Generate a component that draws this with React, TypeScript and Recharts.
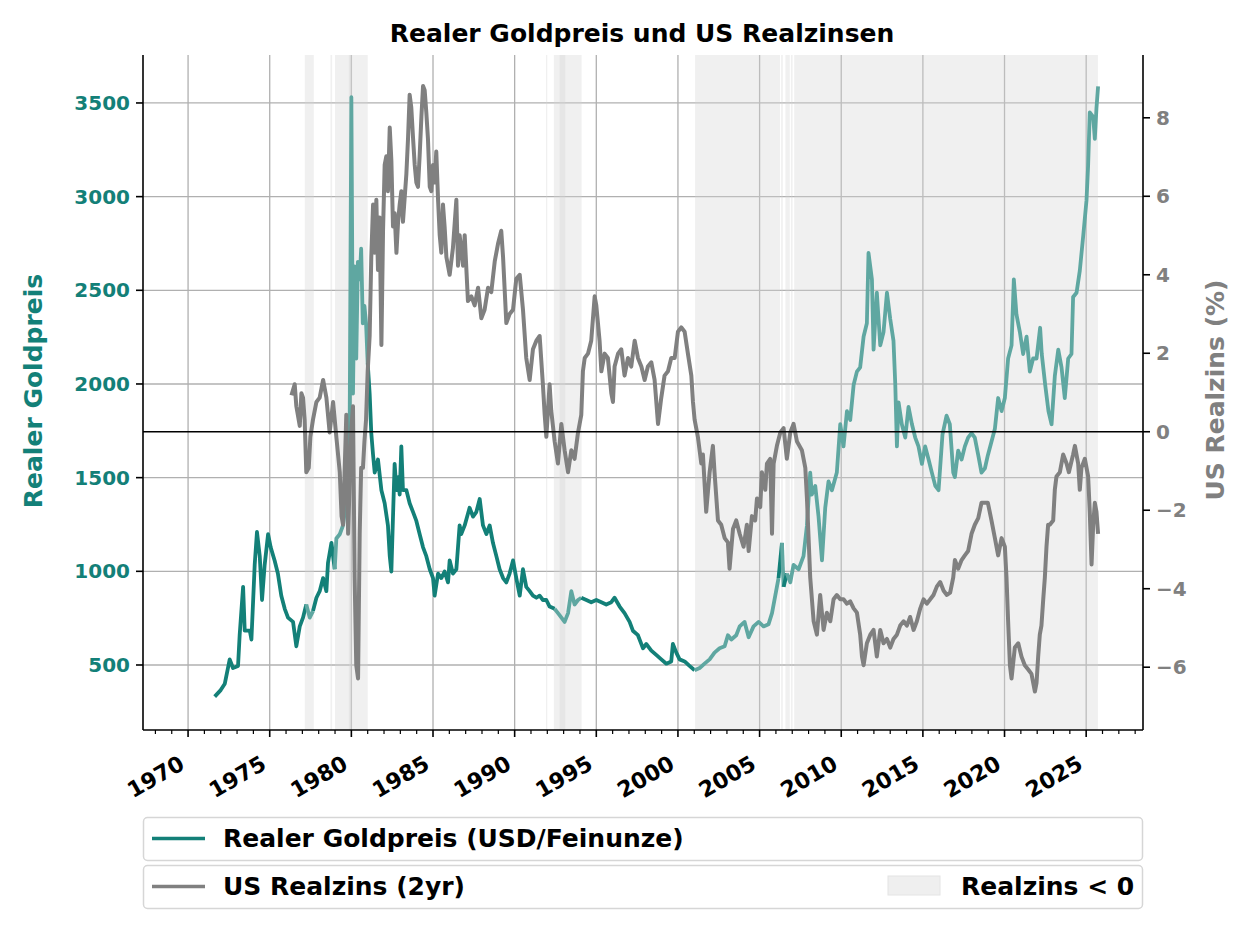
import React from 'react';
import {
  ComposedChart,
  Line,
  XAxis,
  YAxis,
  CartesianGrid,
  ReferenceArea,
  ReferenceLine,
} from 'recharts';

// ---------------- data ----------------
const TITLE = 'Realer Goldpreis und US Realzinsen';
const LEFT_LABEL = 'Realer Goldpreis';
const RIGHT_LABEL = 'US Realzins (%)';
const LEGEND_GOLD = 'Realer Goldpreis (USD/Feinunze)';
const LEGEND_RATE = 'US Realzins (2yr)';
const LEGEND_NEG = 'Realzins < 0';

const GOLD_YEARS = [
  1971.63, 1972.0, 1972.25, 1972.55, 1972.75, 1973.06, 1973.16, 1973.37, 1973.47, 1973.78,
  1973.88, 1974.08, 1974.22, 1974.39, 1974.53, 1974.69, 1974.9, 1975.06, 1975.3, 1975.5,
  1975.71, 1975.92, 1976.12, 1976.43, 1976.63, 1976.84, 1977.04, 1977.24, 1977.45, 1977.65,
  1977.86, 1978.06, 1978.27, 1978.47, 1978.57, 1978.78, 1978.98, 1979.08, 1979.29, 1979.49,
  1979.69, 1979.9, 1980.0, 1980.1, 1980.2, 1980.3, 1980.4, 1980.51, 1980.6, 1980.7,
  1980.8, 1980.9, 1981.0, 1981.12, 1981.22, 1981.33, 1981.43, 1981.63, 1981.84, 1982.04,
  1982.24, 1982.35, 1982.45, 1982.55, 1982.65, 1982.76, 1982.86, 1982.96, 1983.06, 1983.16,
  1983.37, 1983.57, 1983.78, 1983.98, 1984.18, 1984.39, 1984.59, 1984.8, 1985.0, 1985.1,
  1985.31, 1985.51, 1985.71, 1985.92, 1986.02, 1986.22, 1986.43, 1986.63, 1986.73, 1986.94,
  1987.24, 1987.45, 1987.65, 1987.86, 1988.06, 1988.27, 1988.47, 1988.67, 1988.88, 1989.08,
  1989.29, 1989.49, 1989.69, 1989.9, 1990.1, 1990.31, 1990.51, 1990.71, 1990.92, 1991.12,
  1991.33, 1991.53, 1991.73, 1991.94, 1992.14, 1992.45, 1992.76, 1993.06, 1993.27, 1993.47,
  1993.67, 1993.88, 1994.08, 1994.39, 1994.69, 1995.0, 1995.31, 1995.61, 1995.92, 1996.12,
  1996.43, 1996.73, 1997.04, 1997.24, 1997.55, 1997.86, 1998.06, 1998.37, 1998.67, 1998.98,
  1999.29, 1999.59, 1999.69, 1999.9, 2000.1, 2000.41, 2000.71, 2001.02, 2001.33, 2001.63,
  2001.94, 2002.24, 2002.55, 2002.86, 2003.06, 2003.27, 2003.57, 2003.78, 2004.08, 2004.33,
  2004.63, 2004.94, 2005.24, 2005.55, 2005.76, 2005.96, 2006.16, 2006.37, 2006.47, 2006.67,
  2006.88, 2007.08, 2007.39, 2007.69, 2007.9, 2008.1, 2008.2, 2008.41, 2008.61, 2008.82,
  2009.02, 2009.22, 2009.43, 2009.73, 2009.94, 2010.14, 2010.35, 2010.55, 2010.76, 2010.96,
  2011.16, 2011.37, 2011.57, 2011.67, 2011.88, 2011.98, 2012.18, 2012.39, 2012.59, 2012.8,
  2013.0, 2013.2, 2013.31, 2013.41, 2013.51, 2013.71, 2013.92, 2014.12, 2014.33, 2014.53,
  2014.73, 2014.94, 2015.14, 2015.35, 2015.55, 2015.76, 2015.96, 2016.2, 2016.45, 2016.65,
  2016.86, 2016.96, 2017.16, 2017.37, 2017.57, 2017.77, 2017.98, 2018.18, 2018.39, 2018.59,
  2018.8, 2018.98, 2019.2, 2019.41, 2019.61, 2019.82, 2020.02, 2020.22, 2020.43, 2020.57,
  2020.73, 2020.94, 2021.14, 2021.35, 2021.55, 2021.75, 2021.96, 2022.18, 2022.28, 2022.49,
  2022.69, 2022.88, 2023.08, 2023.29, 2023.49, 2023.69, 2023.9, 2024.1, 2024.2, 2024.41,
  2024.61, 2024.82, 2025.02, 2025.12, 2025.22, 2025.43, 2025.53, 2025.63, 2025.73,
];

const GOLD_VALUES = [
  331, 366, 400, 530, 484, 495, 660, 917, 683, 683,
  636, 1034, 1210, 1081, 847, 1034, 1198, 1128, 1058, 988,
  870, 800, 753, 730, 600, 706, 753, 823, 753, 788,
  859, 894, 964, 894, 1046, 1152, 1011, 1175, 1198, 1245,
  1386, 1831, 3531, 1949, 2628, 2136, 2652, 2558, 2722, 2324,
  2417, 2324, 2113, 1949, 1738, 1620, 1527, 1597, 1433, 1363,
  1245, 1081, 999, 1292, 1574, 1433, 1503, 1410, 1667, 1433,
  1433, 1363, 1316, 1269, 1199, 1128, 1081, 1011, 964, 870,
  988, 964, 999, 941, 1058, 988, 1011, 1245, 1199, 1245,
  1339, 1292, 1316, 1386, 1245, 1199, 1245, 1152, 1081, 1011,
  964, 941, 988, 1058, 964, 870, 1011, 917, 894, 870,
  859, 870, 847, 847, 812, 800, 765, 730, 777, 894,
  823, 847, 859, 847, 835, 847, 835, 823, 835, 859,
  812, 777, 730, 683, 659, 589, 612, 577, 554, 530,
  507, 519, 612, 566, 530, 519, 495, 472, 484, 507,
  530, 566, 589, 600, 659, 636, 659, 706, 730, 648,
  706, 730, 706, 718, 777, 870, 964, 1152, 917, 988,
  941, 1034, 1011, 1081, 1245, 1527, 1410, 1456, 1292, 1058,
  1339, 1480, 1433, 1527, 1785, 1667, 1855, 1808, 1996, 2066,
  2089, 2253, 2324, 2699, 2558, 2183, 2487, 2206, 2277, 2487,
  2347, 2230, 1996, 1667, 1902, 1785, 1714, 1878, 1785, 1714,
  1667, 1574, 1667, 1597, 1527, 1456, 1433, 1730, 1831, 1785,
  1527, 1503, 1644, 1597, 1667, 1714, 1738, 1714, 1620, 1527,
  1550, 1620, 1691, 1761, 1925, 1855, 1925, 2136, 2206, 2558,
  2371, 2277, 2160, 2253, 2066, 2136, 2136, 2300, 2160, 1996,
  1855, 1785, 2042, 2183, 2089, 1925, 2136, 2160, 2464, 2487,
  2605, 2792, 2980, 3168, 3449, 3425, 3308, 3472, 3589,
];

const RATE_YEARS = [
  1976.33, 1976.53, 1976.63, 1976.84, 1976.94, 1977.04, 1977.14, 1977.24, 1977.39, 1977.49,
  1977.65, 1977.86, 1978.06, 1978.27, 1978.47, 1978.67, 1978.88, 1979.08, 1979.29, 1979.4,
  1979.49, 1979.69, 1979.8, 1980.0, 1980.1, 1980.2, 1980.3, 1980.41, 1980.51, 1980.6,
  1980.71, 1980.8, 1980.9, 1981.0, 1981.12, 1981.22, 1981.33, 1981.43, 1981.53, 1981.63,
  1981.73, 1981.84, 1981.94, 1982.04, 1982.14, 1982.24, 1982.35, 1982.45, 1982.55, 1982.65,
  1982.76, 1982.86, 1982.96, 1983.06, 1983.16, 1983.37, 1983.47, 1983.57, 1983.67, 1983.78,
  1983.88, 1983.98, 1984.08, 1984.18, 1984.29, 1984.39, 1984.49, 1984.59, 1984.69, 1984.8,
  1984.9, 1985.0, 1985.1, 1985.2, 1985.31, 1985.41, 1985.51, 1985.61, 1985.71, 1985.82,
  1986.02, 1986.22, 1986.43, 1986.53, 1986.63, 1986.84, 1986.94, 1987.14, 1987.35, 1987.55,
  1987.76, 1987.96, 1988.16, 1988.37, 1988.57, 1988.78, 1988.98, 1989.18, 1989.29, 1989.49,
  1989.69, 1989.9, 1990.1, 1990.31, 1990.51, 1990.71, 1990.92, 1991.12, 1991.33, 1991.53,
  1991.73, 1991.84, 1991.94, 1992.14, 1992.24, 1992.45, 1992.65, 1992.86, 1993.06, 1993.27,
  1993.47, 1993.67, 1993.88, 1994.08, 1994.18, 1994.29, 1994.49, 1994.69, 1994.9, 1995.0,
  1995.1, 1995.2, 1995.31, 1995.51, 1995.71, 1995.92, 1996.02, 1996.12, 1996.33, 1996.53,
  1996.73, 1996.94, 1997.14, 1997.35, 1997.55, 1997.76, 1997.96, 1998.16, 1998.37, 1998.57,
  1998.78, 1998.98, 1999.18, 1999.39, 1999.59, 1999.8, 2000.0, 2000.2, 2000.41, 2000.61,
  2000.82, 2000.92, 2001.02, 2001.22, 2001.43, 2001.53, 2001.73, 2001.94, 2002.14, 2002.24,
  2002.45, 2002.65, 2002.86, 2003.06, 2003.16, 2003.37, 2003.57, 2003.78, 2004.02, 2004.22,
  2004.33, 2004.53, 2004.73, 2004.84, 2005.04, 2005.14, 2005.35, 2005.45, 2005.65, 2005.76,
  2005.86, 2006.06, 2006.27, 2006.47, 2006.67, 2006.88, 2007.08, 2007.29, 2007.59, 2007.8,
  2007.9, 2008.1, 2008.31, 2008.51, 2008.71, 2008.92, 2009.12, 2009.33, 2009.53, 2009.73,
  2009.94, 2010.14, 2010.35, 2010.55, 2010.76, 2010.96, 2011.16, 2011.27, 2011.37, 2011.57,
  2011.78, 2011.98, 2012.18, 2012.39, 2012.59, 2012.8, 2013.0, 2013.2, 2013.41, 2013.61,
  2013.82, 2014.02, 2014.22, 2014.43, 2014.63, 2014.84, 2015.04, 2015.24, 2015.45, 2015.65,
  2015.86, 2016.06, 2016.27, 2016.47, 2016.67, 2016.86, 2016.96, 2017.16, 2017.37, 2017.57,
  2017.77, 2017.98, 2018.18, 2018.39, 2018.59, 2018.8, 2018.98, 2019.2, 2019.41, 2019.61,
  2019.82, 2020.02, 2020.12, 2020.22, 2020.33, 2020.43, 2020.63, 2020.84, 2021.04, 2021.24,
  2021.45, 2021.65, 2021.86, 2021.96, 2022.06, 2022.16, 2022.26, 2022.37, 2022.47, 2022.57,
  2022.67, 2022.77, 2022.98, 2023.08, 2023.18, 2023.39, 2023.59, 2023.8, 2023.94, 2024.2,
  2024.31, 2024.51, 2024.61, 2024.71, 2024.92, 2025.12, 2025.22, 2025.33, 2025.43, 2025.53,
  2025.63, 2025.73,
];

const RATE_VALUES = [
  0.93, 1.21, 0.65, 0.15, 0.98, 0.87, 0.31, -1.03, -0.92, -0.13,
  0.31, 0.76, 0.87, 1.32, 0.87, -0.02, 0.76, -0.13, -1.03, -2.15,
  -2.37, 0.43, -2.6, 0.09, 0.65, -3.71, -5.95, -6.29, -2.6, -0.92,
  -0.92, -0.25, 0.31, 1.54, 2.44, 4.45, 5.79, 4.56, 5.91, 4.12,
  5.46, 2.21, 5.12, 6.8, 7.02, 6.13, 7.75, 6.91, 5.23, 5.57,
  4.56, 5.35, 5.79, 6.13, 5.35, 6.58, 7.47, 8.59, 8.26, 7.47,
  6.8, 6.35, 6.24, 7.02, 8.03, 8.81, 8.7, 8.14, 7.47, 6.24,
  6.13, 6.8, 6.35, 7.14, 5.91, 5.01, 4.56, 5.79, 5.23, 4.45,
  4.0, 4.68, 5.91, 4.23, 5.01, 4.23, 5.01, 3.33, 3.45, 3.22,
  3.67, 2.89, 3.11, 3.67, 3.56, 4.34, 4.79, 5.12, 4.45, 2.77,
  3.0, 3.11, 3.9, 4.0, 3.11, 1.88, 1.32, 2.1, 2.32, 2.44,
  1.2, 0.43, -0.13, 1.21, 0.54, -0.25, -0.81, 0.2, -0.47, -1.03,
  -0.47, -0.69, -0.02, 0.43, 1.54, 1.88, 1.99, 2.32, 3.45, 3.22,
  2.77, 2.32, 1.54, 1.99, 1.88, 0.98, 0.76, 1.66, 1.99, 2.1,
  1.43, 1.88, 1.66, 2.32, 1.88, 1.66, 1.32, 1.66, 1.77, 1.32,
  0.2, 0.87, 1.43, 1.54, 1.88, 1.88, 2.55, 2.66, 2.55, 1.99,
  1.43, 0.76, 0.31, -0.13, -0.81, -0.58, -2.04, -1.03, -0.36, -1.03,
  -2.26, -2.37, -2.71, -2.82, -3.49, -2.48, -2.26, -2.6, -2.93, -2.37,
  -3.04, -2.15, -2.26, -1.7, -1.92, -1.03, -1.48, -0.81, -0.69, -2.6,
  -0.81, -0.36, -0.02, 0.09, -0.69, -0.02, 0.2, -0.25, -0.47, -0.92,
  -1.7, -3.71, -4.83, -5.17, -4.16, -5.05, -4.61, -4.83, -4.27, -4.16,
  -4.27, -4.27, -4.38, -4.32, -4.5, -4.61, -5.17, -5.73, -5.95, -5.39,
  -5.17, -5.05, -5.73, -5.05, -5.39, -5.28, -5.5, -5.28, -5.17, -4.94,
  -4.83, -4.94, -4.72, -5.05, -4.83, -4.5, -4.27, -4.38, -4.27, -4.16,
  -3.94, -3.83, -4.05, -4.16, -4.1, -3.71, -3.27, -3.49, -3.27, -3.15,
  -3.04, -2.6, -2.37, -2.2, -1.81, -1.81, -1.81, -2.26, -2.71, -3.15,
  -2.71, -2.93, -3.71, -4.83, -5.95, -6.29, -5.5, -5.39, -5.73, -5.95,
  -6.06, -6.17, -6.62, -6.4, -5.73, -5.17, -4.94, -4.27, -3.71, -2.93,
  -2.37, -2.37, -2.26, -1.48, -1.14, -1.03, -0.58, -0.81, -1.03, -0.58,
  -0.36, -0.81, -1.48, -0.92, -0.69, -1.14, -2.04, -3.38, -2.37, -1.81,
  -2.04, -2.6,
];

// periods with negative real rates (shaded)
const NEG_START = [1977.15, 1978.72, 1979.0, 1979.85, 1991.92, 1992.4, 1992.75, 2001.05, 2006.32, 2006.58, 2006.92, 2007.12];
const NEG_END = [1977.7, 1978.82, 1981.0, 1980.05, 1992.0, 1994.1, 1993.1, 2006.25, 2006.42, 2006.85, 2007.02, 2025.72];

const X_MAJOR = [1970, 1975, 1980, 1985, 1990, 1995, 2000, 2005, 2010, 2015, 2020, 2025];
const X_ALL = [
  1968, 1969, 1970, 1971, 1972, 1973, 1974, 1975, 1976, 1977, 1978, 1979, 1980, 1981, 1982,
  1983, 1984, 1985, 1986, 1987, 1988, 1989, 1990, 1991, 1992, 1993, 1994, 1995, 1996, 1997,
  1998, 1999, 2000, 2001, 2002, 2003, 2004, 2005, 2006, 2007, 2008, 2009, 2010, 2011, 2012,
  2013, 2014, 2015, 2016, 2017, 2018, 2019, 2020, 2021, 2022, 2023, 2024, 2025, 2026, 2027, 2028,
];
const X_DOMAIN = [1967.24, 2028.48];
const LEFT_TICKS = [500, 1000, 1500, 2000, 2500, 3000, 3500];
const LEFT_DOMAIN = [153, 3756];
const RIGHT_TICKS = [-6, -4, -2, 0, 2, 4, 6, 8];
const RIGHT_DOMAIN = [-7.6, 9.6];

// ---------------- style ----------------
const TEAL = '#138078';
const TEAL_LIGHT = '#5fa7a1';
const GREY = '#808080';
const FONT = '"DejaVu Sans", sans-serif';

// ---------------- derived tables ----------------
const isNeg = (t: number) => NEG_START.some((s, i) => t >= s && t <= NEG_END[i]);

type Pt = { t: number; v: number };
const goldPts: Pt[] = GOLD_YEARS.map((t, i) => ({ t, v: GOLD_VALUES[i] }));
const ratePts: Pt[] = RATE_YEARS.map((t, i) => ({ t, v: RATE_VALUES[i] }));

const goldSegments: { neg: boolean; data: Pt[] }[] = [];
for (let i = 0; i < goldPts.length - 1; i++) {
  const neg = isNeg((goldPts[i].t + goldPts[i + 1].t) / 2);
  const last = goldSegments[goldSegments.length - 1];
  if (last && last.neg === neg) {
    last.data.push(goldPts[i + 1]);
  } else {
    goldSegments.push({ neg, data: [goldPts[i], goldPts[i + 1]] });
  }
}

const fmtMinus = (v: number) => String(v).replace('-', '\u2212');

const XTick = (props: any) => {
  const { x, y, payload } = props;
  const major = payload.value % 5 === 0;
  const lx = x - 2;
  const ly = y + 38;
  return (
    <g>
      <line x1={x} x2={x} y1={y} y2={y + (major ? 7 : 4)} stroke="#000" strokeWidth={major ? 1.6 : 1.2} />
      {major && (
        <text
          x={lx}
          y={ly}
          textAnchor="end"
          transform={`rotate(-30 ${lx} ${ly})`}
          fontFamily={FONT}
          fontWeight="bold"
          fontSize={22}
          fill="#000"
        >
          {payload.value}
        </text>
      )}
    </g>
  );
};

export default function App() {
  return (
    <div style={{ position: 'absolute', left: 0, top: 0, width: 1254, height: 940, background: '#fff' }}>
      <ComposedChart
        width={1254}
        height={940}
        margin={{ top: 55, right: 0, bottom: 140, left: 0 }}
        style={{ position: 'absolute', left: 0, top: 0, overflow: 'visible' }}
      >
        <XAxis
          xAxisId="bottom"
          dataKey="t"
          type="number"
          domain={X_DOMAIN}
          ticks={X_ALL}
          interval={0}
          allowDataOverflow
          height={70}
          tickSize={0}
          tickMargin={0}
          tickLine={false}
          tick={<XTick />}
          axisLine={{ stroke: '#000', strokeWidth: 1.6 }}
        />
        <XAxis
          xAxisId="top"
          orientation="top"
          dataKey="t"
          type="number"
          domain={X_DOMAIN}
          ticks={X_MAJOR}
          interval={0}
          allowDataOverflow
          height={0}
          tick={false}
          tickLine={false}
          axisLine={{ stroke: '#000', strokeWidth: 1.6 }}
        />
        <YAxis
          yAxisId="left"
          orientation="left"
          type="number"
          width={143}
          domain={LEFT_DOMAIN}
          ticks={LEFT_TICKS}
          interval={0}
          allowDataOverflow
          tickSize={7}
          tickMargin={6}
          tickLine={{ stroke: '#000', strokeWidth: 1.6 }}
          axisLine={{ stroke: '#000', strokeWidth: 1.6 }}
          tick={{ fill: TEAL, fontSize: 20, fontWeight: 'bold', fontFamily: FONT }}
        />
        <YAxis
          yAxisId="right"
          orientation="right"
          type="number"
          width={111}
          domain={RIGHT_DOMAIN}
          ticks={RIGHT_TICKS}
          interval={0}
          allowDataOverflow
          tickSize={7}
          tickMargin={6}
          tickFormatter={fmtMinus}
          tickLine={{ stroke: '#000', strokeWidth: 1.6 }}
          axisLine={{ stroke: '#000', strokeWidth: 1.6 }}
          tick={{ fill: GREY, fontSize: 20, fontWeight: 'bold', fontFamily: FONT }}
        />
        <CartesianGrid
          xAxisId="bottom"
          yAxisId="left"
          stroke="#b0b0b0"
          strokeWidth={1.3}
          verticalValues={X_MAJOR}
          horizontalValues={LEFT_TICKS}
        />
        {NEG_START.map((s, i) => (
          <ReferenceArea
            key={'neg' + i}
            xAxisId="bottom"
            yAxisId="left"
            x1={s}
            x2={NEG_END[i]}
            y1={LEFT_DOMAIN[0]}
            y2={LEFT_DOMAIN[1]}
            fill="#d3d3d3"
            fillOpacity={0.35}
            stroke="none"
            ifOverflow="hidden"
          />
        ))}
        {goldSegments.map((seg, i) => (
          <Line
            key={'g' + i}
            xAxisId="bottom"
            yAxisId="left"
            data={seg.data}
            dataKey="v"
            type="linear"
            stroke={seg.neg ? TEAL_LIGHT : TEAL}
            strokeWidth={3.8}
            dot={false}
            activeDot={false}
            isAnimationActive={false}
            strokeLinejoin="round"
          />
        ))}
        <Line
          xAxisId="bottom"
          yAxisId="right"
          data={ratePts}
          dataKey="v"
          type="linear"
          stroke={GREY}
          strokeWidth={4}
          dot={false}
          activeDot={false}
          isAnimationActive={false}
          strokeLinejoin="round"
        />
        <ReferenceLine xAxisId="bottom" yAxisId="right" y={0} stroke="#000" strokeWidth={1.6} />
      </ComposedChart>
      <svg
        width={1254}
        height={940}
        style={{ position: 'absolute', left: 0, top: 0, pointerEvents: 'none' }}
        fontFamily={FONT}
        fontWeight="bold"
      >
        <text x={642} y={42} textAnchor="middle" fontSize={25} fill="#000">
          {TITLE}
        </text>
        <text x={42} y={391} textAnchor="middle" fontSize={25} fill={TEAL} transform="rotate(-90 42 391)">
          {LEFT_LABEL}
        </text>
        <text x={1224} y={390} textAnchor="middle" fontSize={25} fill={GREY} transform="rotate(-90 1224 390)">
          {RIGHT_LABEL}
        </text>
        <rect x={143.5} y={817.5} width={999} height={43} rx={4} fill="#fff" stroke="#d6d6d6" strokeWidth={1.5} />
        <line x1={152} x2={205} y1={838.5} y2={838.5} stroke={TEAL} strokeWidth={3.5} />
        <text x={223} y={847} fontSize={25} fill="#000">
          {LEGEND_GOLD}
        </text>
        <rect x={143.5} y={865.5} width={999} height={43} rx={4} fill="#fff" stroke="#d6d6d6" strokeWidth={1.5} />
        <line x1={152} x2={205} y1={886.5} y2={886.5} stroke={GREY} strokeWidth={3.5} />
        <text x={223} y={895} fontSize={25} fill="#000">
          {LEGEND_RATE}
        </text>
        <rect x={888} y={876} width={52} height={19} fill="#efefef" stroke="#e4e4e4" strokeWidth={1} />
        <text x={961} y={895} fontSize={25} fill="#000">
          {LEGEND_NEG}
        </text>
      </svg>
    </div>
  );
}
